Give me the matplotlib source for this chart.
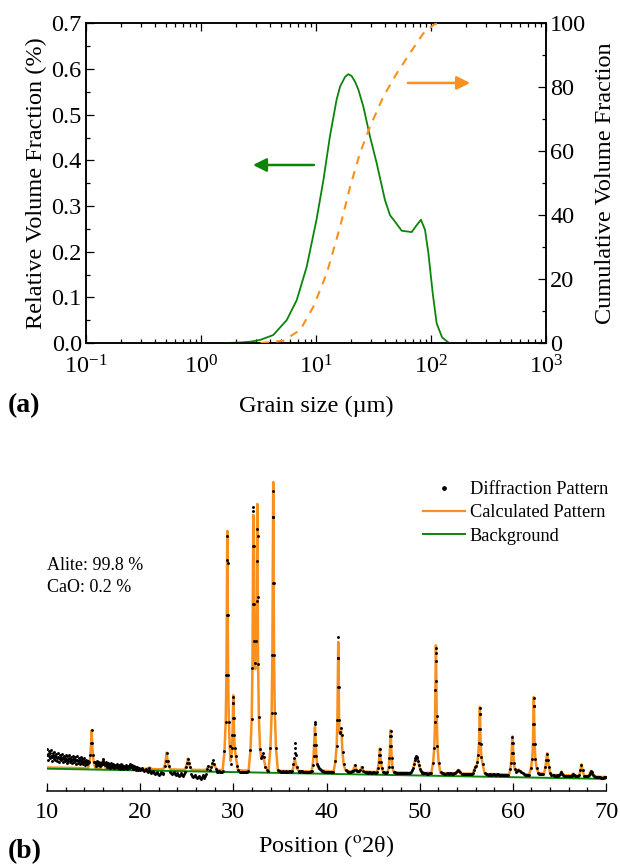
import matplotlib
matplotlib.use("Agg")
import matplotlib.pyplot as plt
from matplotlib.lines import Line2D
from matplotlib.ticker import MultipleLocator, LogLocator, NullFormatter, FormatStrFormatter

plt.rcParams['font.family'] = ['Liberation Serif', 'DejaVu Serif']
plt.rcParams['mathtext.fontset'] = 'stix'

# ---------------- (a) grain size distribution ----------------
psd_size = [1.64, 2.18, 2.7, 3.26, 4.25, 5.56, 6.8, 8.3, 10.1, 11.6, 13.2, 15.1, 16.2, 17.9, 19.1,
            20.4, 21.8, 23.3, 25.8, 29.5, 33.7, 39.8, 44.0, 48.6, 55.6, 67.9, 75.0, 81.8, 88.7, 94.9,
            103.5, 112.0, 125.0, 143.6]
psd_frac = [0.0, 0.001, 0.003, 0.0066, 0.0175, 0.050, 0.094, 0.167, 0.270, 0.357, 0.452, 0.533,
            0.562, 0.583, 0.589, 0.585, 0.573, 0.556, 0.518, 0.452, 0.394, 0.313, 0.280, 0.266,
            0.246, 0.243, 0.258, 0.270, 0.248, 0.197, 0.109, 0.043, 0.012, 0.0]

cum_size = [3.3, 5.2, 7.3, 9.5, 12.4, 16.2, 19.8, 24.1, 29.5, 38.5, 50.4, 65.6, 85.7, 104.8, 112.0, 130.0]
cum_frac = [0.0, 0.7, 4.1, 11.4, 21.8, 36.4, 48.9, 59.4, 67.7, 77.1, 84.4, 90.7, 96.9, 99.5, 100.0, 100.0]

# arrows (data coordinates)
green_arrow_tail = (9.6, 0.39)
green_arrow_head = (2.83, 0.39)
orange_arrow_tail = (63.0, 81.4)
orange_arrow_head = (219.0, 81.4)

# ---------------- (b) XRD pattern ----------------
bg_2theta = [10.0, 70.0]
bg_int = [22.3, 12.1]

calc_pattern = [
    (10.0, 23.5), (12.0, 23.2), (14.4, 22.8),
    (14.55, 28), (14.66, 36), (14.73, 48), (14.79, 60.7), (14.85, 48), (14.92, 36), (15.03, 28), (15.2, 22.5),
    (15.75, 22.5), (15.92, 26), (16.04, 31.7), (16.16, 26), (16.35, 22.3),
    (18.0, 22.3), (20.6, 22.0), (21.0, 23.5), (21.3, 21.9),
    (22.45, 21.6), (22.62, 25), (22.73, 30), (22.84, 38.4), (22.95, 30), (23.06, 25), (23.25, 21.6),
    (24.75, 21.2), (24.93, 24.5), (25.04, 28), (25.13, 32.4), (25.22, 28), (25.33, 24.5), (25.55, 21.1),
    (26.6, 21.0), (27.05, 21.0), (27.3, 24.7), (27.5, 23.5), (27.7, 25), (27.84, 27.5), (28.0, 25), (28.3, 21),
    (28.85, 20.8),
    (29.05, 40), (29.18, 69), (29.26, 116), (29.30, 176), (29.325, 231), (29.35, 260), (29.375, 231),
    (29.40, 176), (29.44, 116), (29.52, 69), (29.61, 45), (29.70, 30),
    (29.79, 35), (29.86, 43), (29.91, 56), (29.94, 73), (29.965, 88), (29.99, 95.7), (30.015, 88),
    (30.04, 73), (30.08, 56), (30.15, 43), (30.25, 35), (30.5, 21),
    (31.0, 20.5), (31.64, 20.5),
    (31.84, 41), (31.97, 72), (32.05, 123), (32.09, 187), (32.115, 245), (32.14, 276), (32.165, 245),
    (32.19, 187), (32.22, 150), (32.28, 126), (32.355, 122), (32.43, 150), (32.49, 190), (32.52, 230),
    (32.545, 262), (32.57, 287), (32.595, 255), (32.62, 194), (32.66, 127), (32.74, 74), (32.87, 42),
    (33.0, 33), (33.07, 35), (33.14, 37), (33.25, 33), (33.45, 24), (33.78, 20.3),
    (33.98, 43), (34.11, 78), (34.19, 136), (34.23, 208), (34.255, 274), (34.28, 309), (34.305, 274),
    (34.33, 208), (34.37, 136), (34.45, 78), (34.58, 43), (34.78, 20.2),
    (35.5, 20.0), (36.3, 19.8),
    (36.42, 23), (36.53, 28), (36.61, 32), (36.69, 28), (36.82, 23), (37.0, 20),
    (38.4, 19.6),
    (38.52, 26), (38.61, 35), (38.67, 46), (38.72, 57), (38.76, 64), (38.8, 57), (38.85, 46), (38.91, 35),
    (39.0, 26), (39.2, 22), (39.5, 20.5),
    (40.76, 19.3),
    (40.96, 30), (41.09, 45), (41.17, 71), (41.21, 104), (41.235, 133), (41.26, 149), (41.285, 133),
    (41.31, 104), (41.35, 71), (41.41, 58), (41.47, 58), (41.55, 62), (41.63, 55), (41.72, 38),
    (41.85, 26), (42.05, 20.5),
    (42.8, 19.2), (43.05, 25.7), (43.3, 19.5), (43.6, 20), (43.77, 24), (44.0, 19.5), (45.4, 18.8),
    (45.53, 23), (45.62, 29), (45.68, 36), (45.73, 42.4), (45.78, 36), (45.84, 29), (45.93, 23), (46.08, 18.8),
    (46.55, 18.6), (46.68, 24), (46.76, 33), (46.82, 45), (46.85, 55), (46.88, 60.7), (46.91, 55), (46.94, 45),
    (47.0, 33), (47.08, 24), (47.22, 18.6),
    (49.1, 18.3), (49.3, 22), (49.45, 29), (49.6, 34), (49.75, 33), (49.9, 27), (50.1, 20), (50.3, 18.2),
    (51.24, 18),
    (51.44, 28), (51.57, 43.5), (51.65, 69), (51.69, 101), (51.715, 130), (51.74, 145.7), (51.765, 138),
    (51.79, 110), (51.83, 75), (51.91, 45), (52.04, 28), (52.24, 18),
    (53.9, 17.6), (54.13, 21), (54.4, 17.4),
    (55.7, 17.3), (55.95, 24), (56.1, 25.5),
    (56.2, 29), (56.29, 36), (56.37, 48), (56.41, 62), (56.435, 77), (56.46, 84), (56.485, 77),
    (56.51, 62), (56.55, 47), (56.63, 34), (56.76, 27), (56.96, 18), (57.3, 17),
    (59.6, 16.5),
    (59.72, 22), (59.81, 28), (59.87, 38), (59.92, 48), (59.96, 54.7), (60.0, 48), (60.05, 38), (60.11, 28),
    (60.2, 22), (60.35, 19), (60.6, 21.5), (60.9, 19), (61.2, 16.8),
    (61.75, 16.5),
    (61.95, 23), (62.08, 32), (62.16, 47.5), (62.2, 67), (62.225, 85), (62.25, 94), (62.275, 85),
    (62.3, 67), (62.34, 47.5), (62.42, 32), (62.55, 23), (62.75, 18),
    (63.35, 17.5), (63.5, 24), (63.59, 31), (63.68, 37.7), (63.77, 31), (63.86, 24), (64.02, 17.5), (64.3, 16),
    (65.0, 15.8), (65.22, 19.5), (65.45, 15.8),
    (66.3, 15.5), (66.47, 17.5), (66.65, 15.4),
    (67.12, 15.3), (67.26, 21), (67.37, 26.7), (67.48, 21), (67.65, 15.2),
    (68.15, 15), (68.37, 20), (68.55, 17.5), (68.85, 14.5),
    (69.6, 14), (70.0, 14.2),
]

obs_pattern = [
    (10.0, 42), (10.05, 36), (10.1, 31), (10.15, 37), (10.2, 40), (10.25, 35), (10.3, 33), (10.35, 38),
    (10.4, 41), (10.45, 35), (10.5, 30), (10.55, 34), (10.6, 38), (10.65, 36), (10.7, 32), (10.75, 34),
    (10.8, 39), (10.85, 35), (10.9, 31), (10.95, 34),
    (11.0, 37), (11.05, 33), (11.1, 30), (11.15, 34), (11.2, 38), (11.25, 33), (11.3, 29), (11.35, 32),
    (11.4, 36), (11.45, 34), (11.5, 31), (11.55, 33), (11.6, 37), (11.65, 32), (11.7, 29), (11.75, 33),
    (11.8, 35), (11.85, 32), (11.9, 30), (11.95, 33),
    (12.0, 36), (12.05, 32), (12.1, 28), (12.15, 31), (12.2, 35), (12.25, 32), (12.3, 30), (12.35, 33),
    (12.4, 36), (12.45, 32), (12.5, 29), (12.55, 31), (12.6, 34), (12.65, 31), (12.7, 28), (12.75, 32),
    (12.8, 35), (12.85, 31), (12.9, 29), (12.95, 32),
    (13.0, 34), (13.05, 30), (13.1, 27), (13.15, 31), (13.2, 35), (13.25, 31), (13.3, 28), (13.35, 30),
    (13.4, 33), (13.45, 30), (13.5, 27), (13.55, 31), (13.6, 34), (13.65, 30), (13.7, 28), (13.75, 30),
    (13.8, 32), (13.85, 29), (13.9, 27), (13.95, 30),
    (14.0, 33), (14.05, 29), (14.1, 26), (14.15, 29), (14.2, 31), (14.25, 29), (14.3, 27), (14.35, 28), (14.4, 30),
    (14.55, 29), (14.66, 36), (14.73, 48), (14.79, 61), (14.85, 48), (14.92, 36), (15.03, 29),
    (15.2, 29), (15.25, 27), (15.3, 25), (15.35, 28), (15.4, 30), (15.45, 27), (15.5, 26), (15.55, 28),
    (15.6, 29), (15.65, 27), (15.7, 25), (15.75, 26), (15.8, 28), (15.85, 27), (15.9, 27), (15.95, 29),
    (16.0, 32), (16.05, 30), (16.1, 28), (16.15, 27), (16.2, 26), (16.25, 27), (16.3, 29), (16.35, 26),
    (16.4, 24), (16.45, 26), (16.5, 28), (16.55, 26), (16.6, 24), (16.65, 25), (16.7, 27), (16.75, 25),
    (16.8, 23), (16.85, 25), (16.9, 28), (16.95, 26),
    (17.0, 24), (17.05, 25), (17.1, 27), (17.15, 25), (17.2, 23), (17.25, 24), (17.3, 26), (17.35, 25),
    (17.4, 24), (17.45, 25), (17.5, 27), (17.55, 25), (17.6, 23), (17.65, 24), (17.7, 26), (17.75, 24),
    (17.8, 22), (17.85, 24), (17.9, 27), (17.95, 25),
    (18.0, 23), (18.05, 24), (18.1, 26), (18.15, 24), (18.2, 22), (18.25, 24), (18.3, 25), (18.35, 24),
    (18.4, 23), (18.45, 24), (18.5, 26), (18.55, 24), (18.6, 22), (18.65, 23), (18.7, 25), (18.75, 24),
    (18.8, 23), (18.85, 25), (18.9, 27), (18.95, 25),
    (19.0, 24), (19.05, 25), (19.1, 26), (19.15, 24), (19.2, 22), (19.25, 23), (19.3, 25), (19.35, 23),
    (19.4, 22), (19.45, 23), (19.5, 24), (19.55, 23), (19.6, 21), (19.65, 22), (19.7, 24), (19.75, 22),
    (19.8, 21), (19.85, 22), (19.9, 23), (19.95, 22),
    (20.0, 21), (20.1, 22), (20.2, 23), (20.3, 21), (20.4, 20), (20.5, 21), (20.6, 22), (20.7, 20),
    (20.8, 19), (20.9, 21), (21.0, 23), (21.1, 20), (21.2, 18), (21.3, 19), (21.4, 20), (21.5, 18),
    (21.6, 17), (21.7, 18), (21.8, 19), (21.9, 17), (22.0, 16), (22.1, 17), (22.2, 19), (22.3, 18),
    (22.4, 17), (22.5, 18), (22.62, 25), (22.73, 30), (22.84, 38), (22.95, 30), (23.06, 25),
    (23.2, 19), (23.3, 18), (23.4, 17), (23.5, 18), (23.6, 19), (23.7, 17), (23.8, 16), (23.9, 17),
    (24.0, 18), (24.1, 16), (24.2, 15), (24.3, 16), (24.4, 18), (24.5, 16), (24.6, 15), (24.7, 17),
    (24.8, 19), (24.93, 24.5), (25.04, 28), (25.13, 32), (25.22, 28), (25.33, 24), (25.5, 17),
    (25.6, 15), (25.7, 14), (25.8, 15), (25.9, 16), (26.0, 14), (26.1, 13), (26.2, 14), (26.3, 15),
    (26.4, 13), (26.5, 12), (26.6, 14), (26.7, 16), (26.8, 14), (26.9, 13), (27.0, 15), (27.05, 17),
    (27.2, 22), (27.3, 25), (27.45, 21), (27.6, 24), (27.75, 28), (27.84, 31), (27.95, 27), (28.1, 22),
    (28.2, 20), (28.3, 19), (28.4, 19), (28.5, 20), (28.6, 19.5), (28.7, 19), (28.8, 19.5), (28.9, 20),
    (29.05, 40), (29.18, 69), (29.26, 116), (29.30, 176), (29.325, 231), (29.35, 255), (29.375, 228),
    (29.40, 176), (29.44, 116), (29.52, 69), (29.61, 45), (29.70, 27),
    (29.79, 35), (29.86, 43), (29.91, 56), (29.94, 73), (29.965, 88), (29.99, 94), (30.015, 88), (30.04, 73),
    (30.08, 56), (30.15, 43), (30.25, 35), (30.38, 25), (30.5, 21), (30.7, 19), (30.8, 19.5), (30.9, 19.5),
    (31.0, 19), (31.1, 19), (31.2, 19.5), (31.3, 19.5), (31.4, 19), (31.5, 19), (31.6, 20),
    (31.84, 41), (31.97, 72), (32.05, 123), (32.09, 187), (32.115, 245), (32.14, 284), (32.15, 280),
    (32.165, 245), (32.19, 187), (32.22, 150), (32.28, 128), (32.43, 150), (32.49, 190), (32.52, 230),
    (32.545, 262), (32.595, 255), (32.62, 194), (32.66, 127), (32.74, 74), (32.87, 42), (33.0, 33),
    (33.07, 35), (33.14, 38), (33.25, 34), (33.45, 24), (33.6, 21), (33.75, 20),
    (33.98, 43), (34.11, 78), (34.19, 136), (34.23, 208), (34.255, 274), (34.28, 300), (34.305, 274),
    (34.33, 208), (34.37, 136), (34.45, 78), (34.58, 43), (34.78, 21), (34.9, 20), (35.0, 20), (35.1, 19.5),
    (35.2, 19.5), (35.3, 20), (35.4, 19.5), (35.5, 19), (35.6, 19.5), (35.7, 20), (35.8, 19.5), (35.9, 19.5),
    (36.0, 20), (36.1, 20), (36.2, 19.5), (36.3, 20),
    (36.45, 27), (36.53, 33), (36.58, 38), (36.61, 43), (36.64, 48), (36.69, 36), (36.82, 24), (37.0, 20),
    (37.1, 19.5), (37.2, 19.5), (37.3, 20), (37.4, 20), (37.5, 19.5), (37.6, 19), (37.7, 19.5), (37.8, 19.5),
    (37.9, 19), (38.0, 19), (38.1, 19.5), (38.2, 19.5), (38.3, 20), (38.4, 20),
    (38.52, 26), (38.61, 35), (38.67, 46), (38.72, 57), (38.75, 67), (38.77, 69), (38.8, 57), (38.85, 46),
    (38.91, 35), (39.0, 27), (39.1, 25), (39.2, 23), (39.3, 22), (39.4, 21), (39.5, 20), (39.6, 20),
    (39.7, 19.5), (39.8, 19.5), (39.9, 19), (40.0, 19), (40.1, 19.5), (40.2, 19.5), (40.3, 19), (40.4, 19),
    (40.5, 19), (40.6, 19.5), (40.7, 19.5),
    (40.96, 30), (41.09, 45), (41.17, 71), (41.21, 104), (41.235, 133), (41.26, 154), (41.285, 133),
    (41.31, 104), (41.35, 71), (41.41, 58), (41.47, 59), (41.55, 63), (41.63, 56), (41.72, 39), (41.85, 27),
    (42.05, 21), (42.2, 20), (42.3, 19.5), (42.4, 19.5), (42.5, 19), (42.6, 19.5), (42.7, 20), (42.8, 20.5),
    (42.9, 21), (43.05, 26), (43.2, 21), (43.3, 20.5), (43.4, 20), (43.5, 20.5), (43.6, 21), (43.77, 24),
    (43.95, 20), (44.1, 19.5), (44.2, 19), (44.3, 19), (44.4, 18.5), (44.5, 18.5), (44.6, 19), (44.7, 19),
    (44.8, 18.5), (44.9, 18.5), (45.0, 19), (45.1, 19), (45.2, 18.5), (45.3, 18.5), (45.4, 19),
    (45.53, 23), (45.62, 29), (45.68, 36), (45.73, 42), (45.78, 36), (45.84, 29), (45.93, 23), (46.08, 19),
    (46.2, 19), (46.3, 18.5), (46.4, 18.5), (46.5, 19),
    (46.68, 24), (46.76, 33), (46.82, 45), (46.85, 55), (46.88, 60), (46.91, 55), (46.94, 45), (47.0, 33),
    (47.08, 24), (47.22, 19), (47.35, 19), (47.5, 18.5), (47.6, 18.5), (47.7, 18), (47.8, 18), (47.9, 18.5),
    (48.0, 18.5), (48.1, 18), (48.2, 18), (48.3, 18.5), (48.4, 18.5), (48.5, 18), (48.6, 18), (48.7, 18.5),
    (48.8, 18.5), (48.9, 18), (49.0, 18.5), (49.1, 19),
    (49.2, 21), (49.3, 23), (49.38, 27), (49.45, 31), (49.52, 33), (49.6, 35), (49.68, 34), (49.75, 33),
    (49.82, 30), (49.9, 26), (50.0, 22), (50.1, 20), (50.2, 19), (50.3, 18.5), (50.4, 18.5), (50.5, 18),
    (50.6, 18), (50.7, 18), (50.8, 17.5), (50.9, 17.5), (51.0, 18), (51.1, 18), (51.2, 18),
    (51.44, 28), (51.57, 43.5), (51.65, 69), (51.69, 101), (51.715, 130), (51.74, 143), (51.765, 138),
    (51.79, 110), (51.83, 75), (51.91, 45), (52.04, 28), (52.24, 19), (52.4, 18), (52.5, 18), (52.6, 17.5),
    (52.7, 17.5), (52.8, 17.5), (52.9, 18), (53.0, 18), (53.1, 17.5), (53.2, 17.5), (53.3, 18), (53.4, 18),
    (53.5, 17.5), (53.6, 17.5), (53.7, 18), (53.8, 18), (53.9, 19), (54.0, 20), (54.13, 21), (54.25, 20),
    (54.35, 19), (54.5, 17.5), (54.6, 17.5), (54.7, 17), (54.8, 17), (54.9, 17.5), (55.0, 17.5), (55.1, 17),
    (55.2, 17), (55.3, 17.5), (55.4, 17.5), (55.5, 17), (55.6, 17.5), (55.7, 18), (55.82, 21),
    (55.95, 24), (56.1, 25.5), (56.2, 29), (56.29, 36), (56.37, 48), (56.41, 62), (56.435, 77), (56.46, 83),
    (56.485, 77), (56.51, 62), (56.55, 47), (56.63, 34), (56.76, 27), (56.96, 18), (57.1, 17), (57.2, 17),
    (57.3, 16.5), (57.4, 16.5), (57.5, 17), (57.6, 17), (57.7, 16.5), (57.8, 16.5), (57.9, 17), (58.0, 17),
    (58.1, 16.5), (58.2, 16.5), (58.3, 17), (58.4, 17), (58.5, 16.5), (58.6, 16), (58.7, 16), (58.8, 16.5),
    (58.9, 16.5), (59.0, 16), (59.1, 16), (59.2, 16.5), (59.3, 16.5), (59.4, 16.5), (59.5, 16.5),
    (59.72, 22), (59.81, 28), (59.87, 38), (59.92, 48), (59.96, 54), (60.0, 48), (60.05, 38), (60.11, 28),
    (60.2, 22), (60.35, 19), (60.48, 20.5), (60.6, 21.5), (60.75, 20.5), (60.9, 19), (61.05, 18), (61.2, 17),
    (61.3, 16.5), (61.4, 16.5), (61.5, 16.5), (61.6, 16.5), (61.7, 16.5),
    (61.95, 23), (62.08, 32), (62.16, 47.5), (62.2, 67), (62.225, 85), (62.25, 93), (62.275, 85), (62.3, 67),
    (62.34, 47.5), (62.42, 32), (62.55, 23), (62.75, 18), (62.85, 17), (62.95, 17), (63.05, 17), (63.15, 17),
    (63.25, 17),
    (63.5, 24), (63.59, 31), (63.68, 37), (63.77, 31), (63.86, 24), (64.02, 18), (64.15, 16.5), (64.3, 16),
    (64.4, 16), (64.5, 15.5), (64.6, 15.5), (64.7, 16), (64.8, 16), (64.9, 15.5), (65.0, 16), (65.1, 17),
    (65.22, 19), (65.32, 17.5), (65.4, 16), (65.5, 15.5), (65.6, 15.5), (65.7, 15), (65.8, 15), (65.9, 15.5),
    (66.0, 15.5), (66.1, 15), (66.2, 15), (66.3, 15.5), (66.4, 16.5), (66.47, 17.5), (66.55, 16.5),
    (66.6, 16), (66.7, 15.5), (66.8, 15), (66.9, 15), (67.0, 15), (67.12, 16), (67.26, 21), (67.37, 26),
    (67.48, 21), (67.65, 15.5), (67.75, 15), (67.85, 15), (67.95, 15), (68.05, 15), (68.15, 16),
    (68.25, 18), (68.37, 20), (68.47, 19), (68.55, 17.5), (68.65, 16), (68.75, 15), (68.85, 14.5),
    (68.95, 14.5), (69.05, 14), (69.15, 14), (69.25, 14), (69.35, 14), (69.45, 13.5), (69.55, 13.5),
    (69.65, 13.5), (69.75, 14), (69.85, 14), (69.95, 14.5),
]

phase_text = ["Alite: 99.8 %", "CaO: 0.2 %"]
legend_labels = ["Diffraction Pattern", "Calculated Pattern", "Background"]
xrd_ticks = [10, 20, 30, 40, 50, 60, 70]

GREEN = '#0a850a'
ORANGE = '#f7901e'
W, H = 620, 864
FS = 17.5

fig = plt.figure(figsize=(W / 100, H / 100), dpi=100)

# ---------- panel (a) ----------
ax1 = fig.add_axes([86 / W, 1 - 343 / H, (546 - 86) / W, (343 - 23.5) / H])
ax1.set_xscale('log')
ax1.plot(psd_size, psd_frac, color=GREEN, lw=1.3, zorder=3)
ax1.set_xlim(0.1, 1000)
ax1.set_ylim(0, 0.7)
ax1.yaxis.set_major_locator(MultipleLocator(0.1))
ax1.yaxis.set_minor_locator(MultipleLocator(0.05))
ax1.yaxis.set_major_formatter(FormatStrFormatter('%.1f'))
ax1.xaxis.set_major_locator(LogLocator(base=10, numticks=10))
ax1.xaxis.set_minor_locator(LogLocator(base=10, subs=[2, 3, 4, 5, 6, 7, 8, 9], numticks=20))
ax1.xaxis.set_minor_formatter(NullFormatter())
ax1.tick_params(which='both', direction='in', top=True, right=False, labelsize=FS, width=0.9)
ax1.tick_params(which='major', length=5.5)
ax1.tick_params(which='minor', length=3)
ax1.tick_params(axis='x', pad=9)
ax1.tick_params(axis='y', pad=3)
ax1.set_ylabel('Relative Volume Fraction (%)', fontsize=FS, labelpad=3)
ax1.set_xlabel('Grain size (\u00b5m)', fontsize=FS, labelpad=12)
for s in ax1.spines.values():
    s.set_linewidth(1.1)

ax1b = ax1.twinx()
ax1b.plot(cum_size, cum_frac, color=ORANGE, lw=1.5, ls=(0, (4, 3.5)), zorder=3)
ax1b.set_ylim(0, 100)
ax1b.yaxis.set_major_locator(MultipleLocator(20))
ax1b.yaxis.set_minor_locator(MultipleLocator(10))
ax1b.tick_params(which='both', direction='in', labelsize=FS, width=0.9, pad=3)
ax1b.tick_params(which='major', length=5.5)
ax1b.tick_params(which='minor', length=3)
ax1b.set_ylabel('Cumulative Volume Fraction', fontsize=FS, labelpad=6)
for s in ax1b.spines.values():
    s.set_linewidth(1.1)

ax1.annotate('', xy=green_arrow_head, xytext=green_arrow_tail,
             arrowprops=dict(arrowstyle='-|>', color=GREEN, lw=1.8, mutation_scale=20,
                             shrinkA=0, shrinkB=0))
ax1b.annotate('', xy=orange_arrow_head, xytext=orange_arrow_tail,
              arrowprops=dict(arrowstyle='-|>', color=ORANGE, lw=1.8, mutation_scale=20,
                              shrinkA=0, shrinkB=0))

fig.text(8 / W, 1 - 406 / H, '(a)', fontsize=20, fontweight='bold', va='center', ha='left')

# ---------- panel (b) ----------
ax2 = fig.add_axes([47 / W, 1 - 791 / H, (606 - 47) / W, 321 / H])
calc_x = [p[0] for p in calc_pattern]
calc_y = [p[1] for p in calc_pattern]
obs_x = [p[0] for p in obs_pattern]
obs_y = [p[1] for p in obs_pattern]
ax2.plot(calc_x, calc_y, color=ORANGE, lw=1.8, zorder=2)
ax2.plot(bg_2theta, bg_int, color=GREEN, lw=1.4, zorder=3)
ax2.plot(obs_x, obs_y, ls='none', marker='o', ms=2.1, mfc='black', mec='black', mew=0, zorder=4)
ax2.set_xlim(10, 70)
ax2.set_ylim(0, 321)
for side in ['left', 'right', 'top']:
    ax2.spines[side].set_visible(False)
ax2.spines['bottom'].set_linewidth(1.1)
ax2.set_yticks([])
ax2.set_xticks(xrd_ticks)
ax2.xaxis.set_minor_locator(MultipleLocator(2))
ax2.tick_params(which='both', direction='in', labelsize=FS, width=0.9)
ax2.tick_params(which='major', length=5.5, pad=8)
ax2.tick_params(which='minor', length=3)
ax2.set_xlabel('Position ($^{\\mathrm{o}}$2\u03b8)', fontsize=FS, labelpad=7)

ax2.text(0.0, (791 - 565) / 321, phase_text[0], transform=ax2.transAxes, fontsize=13,
         va='center', ha='left')
ax2.text(0.0, (791 - 587) / 321, phase_text[1], transform=ax2.transAxes, fontsize=13,
         va='center', ha='left')

handles = [Line2D([], [], ls='none', marker='o', ms=2.4, color='black'),
           Line2D([], [], color=ORANGE, lw=1.6),
           Line2D([], [], color=GREEN, lw=1.4)]
ax2.legend(handles, legend_labels, loc='upper left', bbox_to_anchor=(423 / W, 1 - 481 / H),
           bbox_transform=fig.transFigure, frameon=False, fontsize=13.2, borderpad=0,
           borderaxespad=0, handlelength=2.3, handletextpad=0.25, labelspacing=0.35)

fig.text(8 / W, 1 - 852 / H, '(b)', fontsize=20, fontweight='bold', va='center', ha='left')

fig.savefig('out.png', dpi=100)
